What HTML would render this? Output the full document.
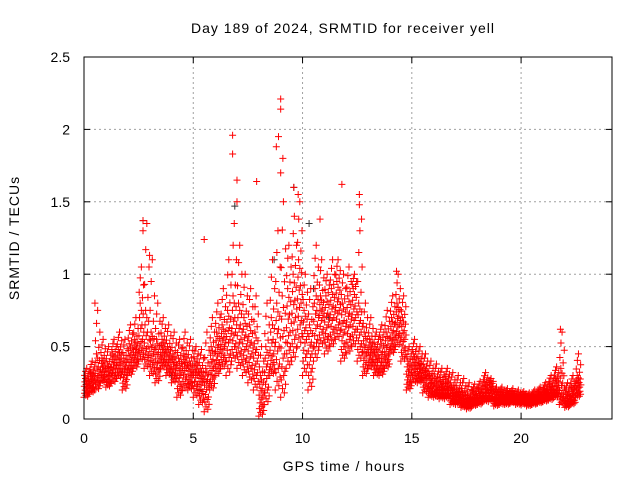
<!DOCTYPE html>
<html><head><meta charset="utf-8"><style>
html,body{margin:0;padding:0;background:#fff;}
svg{display:block;font-family:"Liberation Sans",sans-serif;}
</style></head><body>
<svg id="chart" width="640" height="480">
<text x="343" y="33" font-size="14" letter-spacing="1" text-anchor="middle">Day 189 of 2024, SRMTID for receiver yell</text>
<text x="344" y="471" font-size="14" letter-spacing="1" text-anchor="middle">GPS time / hours</text>
<text transform="translate(19,238) rotate(-90)" font-size="14" letter-spacing="1" text-anchor="middle">SRMTID / TECUs</text>
<g id="grid"></g>
<g id="ticks"></g>
<g id="points"></g>
<rect x="84" y="57" width="528" height="362" fill="none" stroke="#000" stroke-width="1"/>
</svg>
<script>
const xTicks=[0,5,10,15,20];
const yTicks=[0,0.5,1,1.5,2,2.5];
const yTickLabels=["0","0.5","1","1.5","2","2.5"];
const hours=[0,0.25,0.5,0.75,1,1.25,1.5,1.75,2,2.25,2.5,2.75,3,3.25,3.5,3.75,4,4.25,4.5,4.75,5,5.25,5.5,5.75,6,6.25,6.5,6.75,7,7.25,7.5,7.75,8,8.25,8.5,8.75,9,9.25,9.5,9.75,10,10.25,10.5,10.75,11,11.25,11.5,11.75,12,12.25,12.5,12.75,13,13.25,13.5,13.75,14,14.25,14.5,14.75,15,15.25,15.5,15.75,16,16.25,16.5,16.75,17,17.25,17.5,17.75,18,18.25,18.5,18.75,19,19.25,19.5,19.75,20,20.25,20.5,20.75,21,21.25,21.5,21.75,22,22.25,22.5];
const lowVals=[.15,.18,.20,.25,.22,.25,.28,.20,.30,.35,.40,.35,.30,.25,.35,.30,.25,.15,.20,.20,.15,.10,.05,.20,.30,.35,.30,.40,.35,.30,.25,.20,.02,.10,.30,.20,.15,.35,.40,.50,.30,.20,.40,.50,.45,.50,.55,.40,.45,.50,.40,.30,.35,.30,.30,.35,.45,.50,.40,.20,.25,.25,.18,.15,.15,.14,.14,.10,.10,.08,.07,.09,.10,.12,.12,.09,.10,.10,.11,.10,.10,.09,.10,.11,.12,.13,.15,.10,.08,.10,.15];
const midLowVals=[.22,.25,.30,.33,.30,.35,.38,.32,.40,.45,.55,.50,.45,.40,.45,.40,.35,.30,.35,.30,.30,.25,.22,.35,.45,.50,.55,.60,.55,.50,.45,.40,.15,.30,.45,.50,.45,.60,.70,.80,.55,.45,.65,.70,.65,.70,.75,.60,.65,.70,.60,.45,.45,.40,.40,.45,.55,.65,.55,.30,.35,.32,.28,.22,.20,.20,.20,.16,.15,.12,.11,.13,.14,.18,.18,.13,.14,.13,.14,.13,.13,.12,.13,.14,.16,.18,.20,.18,.12,.15,.22];
const midHighVals=[.28,.32,.45,.42,.38,.45,.48,.42,.52,.55,.80,.75,.60,.55,.55,.50,.45,.42,.45,.40,.40,.35,.35,.50,.60,.65,.75,.85,.80,.70,.65,.60,.30,.50,.70,.80,.85,.90,1.00,1.10,.75,.65,.90,.85,.85,.90,.95,.80,.85,.90,.80,.60,.55,.50,.55,.60,.70,.80,.70,.40,.45,.40,.35,.30,.28,.26,.27,.22,.20,.18,.16,.18,.20,.25,.24,.18,.18,.17,.17,.16,.16,.15,.16,.18,.20,.24,.28,.35,.18,.22,.30];
const highVals=[.35,.40,.75,.55,.50,.55,.60,.55,.65,.70,1.05,1.35,1.10,.80,.70,.65,.60,.55,.60,.55,.50,.48,.60,.70,.80,.90,1.10,1.35,1.20,1.00,.90,.85,.50,.80,1.10,1.30,1.50,1.20,1.40,1.50,1.00,.90,1.20,1.10,1.00,1.10,1.10,1.00,1.05,1.00,1.30,.80,.70,.60,.65,.75,.85,1.00,.85,.50,.55,.50,.45,.40,.38,.35,.35,.32,.30,.28,.25,.24,.26,.32,.28,.22,.22,.21,.21,.20,.19,.18,.20,.22,.25,.30,.36,.60,.25,.30,.45];
const spikeHours=[2.7,2.7,3.0,6.8,6.8,7.0,7.0,7.9,5.5,8.8,8.9,9.0,9.0,9.1,9.0,9.6,9.8,10.8,11.8,12.6,12.6,12.7,14.3,21.8,0.5];
const spikeVals=[1.37,1.3,1.13,1.96,1.83,1.65,1.5,1.64,1.24,1.88,1.95,2.21,2.14,1.8,1.7,1.6,1.55,1.38,1.62,1.55,1.48,1.38,1.02,0.62,0.8];
const blackHours=[6.9,9.6,10.3,10.5,4.0,5.3,2.7,8.7,11.2];
const blackVals=[1.47,1.6,1.35,0.9,0.3,0.2,1.37,1.1,0.7];

const X0=84,X1=612,Y0=419,Y1=57,XMAX=24.16,YMAX=2.5;
const xs=v=>X0+v/XMAX*(X1-X0);
const ys=v=>Y0-v/YMAX*(Y0-Y1);
const NS="http://www.w3.org/2000/svg";
function mk(tag,attrs,parent){const e=document.createElementNS(NS,tag);for(const k in attrs)e.setAttribute(k,attrs[k]);parent.appendChild(e);return e;}
const grid=document.getElementById('grid'),ticks=document.getElementById('ticks'),pts=document.getElementById('points');
xTicks.forEach((t,i)=>{
  const x=xs(t);
  if(i>0){const g=mk('line',{x1:x,x2:x,y1:Y0,y2:Y1,stroke:'#a0a0a0','stroke-dasharray':'2,3'},grid);
  
  }
  mk('line',{x1:x,x2:x,y1:Y0,y2:Y0-6,stroke:'#000'},ticks);
  mk('line',{x1:x,x2:x,y1:Y1,y2:Y1+6,stroke:'#000'},ticks);
  const l=mk('text',{x:x,y:443,'font-size':14,'text-anchor':'middle'},ticks);l.textContent=t;
  
  
});
yTicks.forEach((t,i)=>{
  const y=ys(t);
  if(i>0&&i<yTicks.length-1){const g=mk('line',{x1:X0,x2:X1,y1:y,y2:y,stroke:'#a0a0a0','stroke-dasharray':'2,3'},grid);
  
  }
  mk('line',{x1:X0,x2:X0+6,y1:y,y2:y,stroke:'#000'},ticks);
  mk('line',{x1:X1,x2:X1-6,y1:y,y2:y,stroke:'#000'},ticks);
  const l=mk('text',{x:70,y:y+5,'font-size':14,'text-anchor':'end'},ticks);l.textContent=yTickLabels[i];
  
  
});
function plus(h,v,color){
  const x=xs(h),y=ys(v);
  const p=mk('path',{d:`M${x-3.5},${y}H${x+3.5}M${x},${y-3.5}V${y+3.5}`,stroke:color,'stroke-width':1,fill:'none'},pts);
  
  
}
blackHours.forEach((h,i)=>plus(h,blackVals[i],'#333'));
// scatter spread pattern (layout only): fractions across lo..midHigh band and midHigh..high band
const spreadLow=[0,0.55,0.2,0.8,0.35,1,0.1,0.65,0.45,0.9,0.25,0.7,0.05,0.5,0.3,0.85,0.15,0.6];
const spreadHigh=[0.3,0.7,1,0.15,0.5];
hours.forEach((h,i)=>{
  const n=spreadLow.length;
  spreadLow.forEach((f,k)=>{
    const lo=f<0.5?lowVals[i]:midLowVals[i];
    const hi=f<0.5?midLowVals[i]:midHighVals[i];
    const g=f<0.5?f*2:(f-0.5)*2;
    plus(h+k/n*0.25,lo+g*(hi-lo),'#ff0000');
  });
  spreadHigh.forEach((f,k)=>{
    plus(h+(k+0.5)/spreadHigh.length*0.25,midHighVals[i]+f*(highVals[i]-midHighVals[i]),'#ff0000');
  });
});
spikeHours.forEach((h,i)=>plus(h,spikeVals[i],'#ff0000'));
</script>
</body></html>
